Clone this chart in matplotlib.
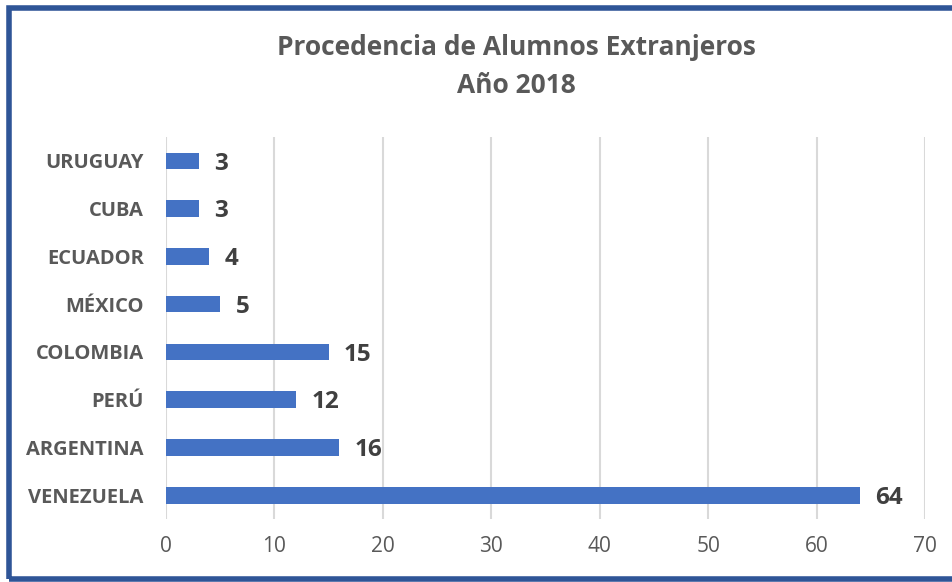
import matplotlib as mpl
from matplotlib import pyplot as plt
from matplotlib.patches import Rectangle

mpl.rc('font', family=['Open Sans', 'DejaVu Sans'])

paises = ["VENEZUELA", "ARGENTINA", "PERÚ", "COLOMBIA", "MÉXICO", "ECUADOR", "CUBA", "URUGUAY"]
alumnos = [64, 16, 12, 15, 5, 4, 3, 3]
x_ticks = [0, 10, 20, 30, 40, 50, 60, 70]

fig = plt.figure(figsize=(9.52, 5.82), dpi=100)
ax = fig.add_axes([0.1744, 0.1082, 0.7972, 0.6564])

ypos = list(range(len(paises)))
ax.barh(ypos, alumnos, height=0.35, color='#4472C4', zorder=3)

for y, v in zip(ypos, alumnos):
    ax.annotate(str(v), (v, y), xytext=(11, -2), textcoords='offset points',
                ha='left', va='center', fontsize=17.5, fontweight='bold', color='#404040')

ax.set_xlim(0, 70)
ax.set_ylim(-0.5, len(paises) - 0.5)
ax.set_xticks(x_ticks)
ax.set_yticks(ypos)
ax.set_yticklabels(paises, fontsize=14.5, fontweight='bold', color='#595959')
ax.tick_params(axis='x', labelsize=15, labelcolor='#595959', length=0, pad=12)
ax.tick_params(axis='y', length=0, pad=16)
ax.grid(axis='x', color='#D9D9D9', linewidth=1.5, zorder=0)
for s in ax.spines.values():
    s.set_visible(False)

fig.text(0.542, 0.918, "Procedencia de Alumnos Extranjeros", ha='center', va='center',
         fontsize=19, fontweight='bold', color='#595959')
fig.text(0.542, 0.853, "Año 2018", ha='center', va='center',
         fontsize=19, fontweight='bold', color='#595959')

# marco azul de la figura
fig.patches.append(Rectangle((0.0095, 0.0043), 1.2, 0.982, transform=fig.transFigure,
                             fill=False, edgecolor='#2F5597', linewidth=4))

fig.savefig('out.png', dpi=100)
